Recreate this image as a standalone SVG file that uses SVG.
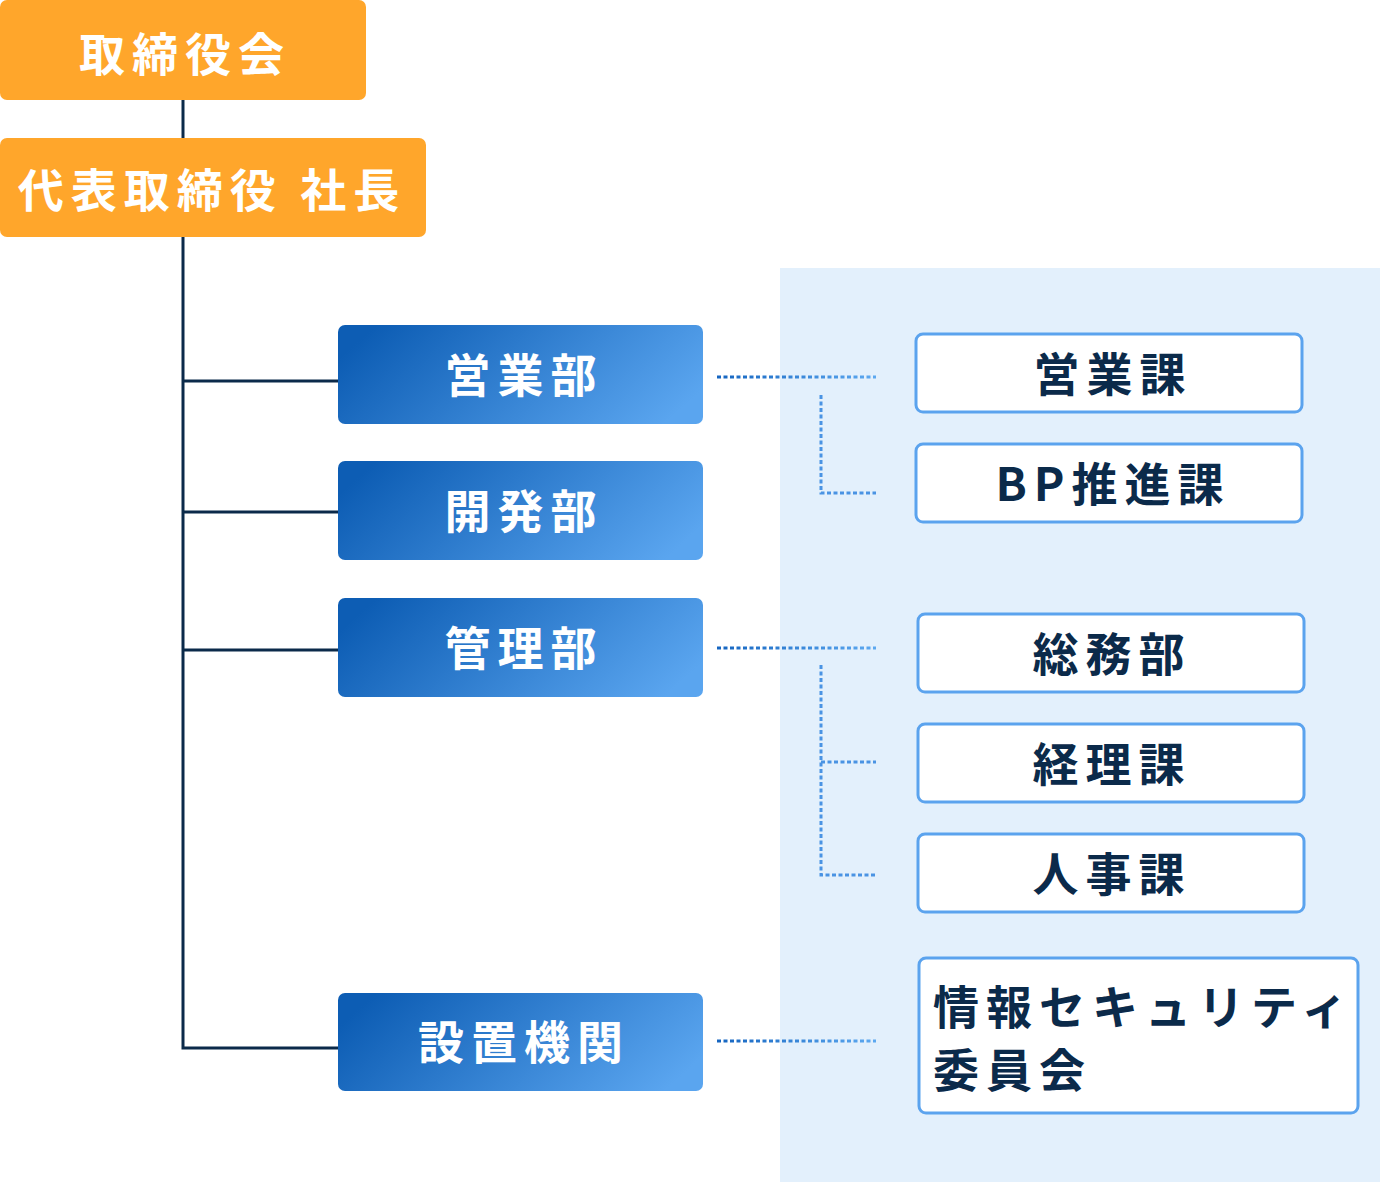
<svg xmlns="http://www.w3.org/2000/svg" width="1380" height="1182" viewBox="0 0 1380 1182">
<defs>
<linearGradient id="gBlue" x1="0" y1="0.35" x2="1" y2="0.65">
<stop offset="0" stop-color="#0D5DB4"/>
<stop offset="1" stop-color="#5AA5EF"/>
</linearGradient>
<linearGradient id="gDot" gradientUnits="userSpaceOnUse" x1="717" y1="0" x2="875" y2="0">
<stop offset="0" stop-color="#1565C0"/>
<stop offset="1" stop-color="#5CA8F0"/>
</linearGradient>
<style>
.org{fill:#FFA62B}
.dept{fill:url(#gBlue)}
.sub{fill:#FFFFFF;stroke:#5BA3EE;stroke-width:3}
.tw{font-family:"Noto Sans CJK JP","Noto Sans",sans-serif;font-weight:700;font-size:46px;fill:#FFFFFF;letter-spacing:7px;text-anchor:middle;dominant-baseline:central}
.td{font-family:"Noto Sans CJK JP","Noto Sans",sans-serif;font-weight:700;font-size:46px;fill:#0B2A4A;letter-spacing:7px;text-anchor:middle;dominant-baseline:central}
.tl{text-anchor:start}
.solid{stroke:#0B2A4A;stroke-width:3;fill:none}
.dot{stroke:url(#gDot);stroke-width:3;stroke-dasharray:4 2.5;fill:none}
.dotv{stroke:#4A93E3;stroke-width:3;stroke-dasharray:4 2.5;fill:none}
</style>
</defs>
<rect x="780" y="268" width="600" height="914" fill="#E3F0FC"/>
<g id="connectors">
<line class="solid" x1="183" y1="100" x2="183" y2="138"/>
<path class="solid" d="M183 237 V1048 H338"/>
<line class="solid" x1="183" y1="381" x2="338" y2="381"/>
<line class="solid" x1="183" y1="512" x2="338" y2="512"/>
<line class="solid" x1="183" y1="650" x2="338" y2="650"/>
<line class="dot" x1="717" y1="377" x2="876" y2="377"/>
<path class="dotv" d="M821 395 V493 H876"/>
<line class="dot" x1="717" y1="648" x2="876" y2="648"/>
<path class="dotv" d="M821 665 V875 H876"/>
<line class="dotv" x1="821" y1="762" x2="876" y2="762"/>
<line class="dot" x1="717" y1="1041" x2="876" y2="1041"/>
</g>
<g id="board"><rect class="org" x="0" y="0" width="366" height="100" rx="7"/><text class="tw" x="185" y="51">取締役会</text></g>
<g id="president"><rect class="org" x="0" y="138" width="426" height="99" rx="7"/><text class="tw" x="212" y="187">代表取締役 社長</text></g>
<g id="sales"><rect class="dept" x="338" y="325" width="365" height="99" rx="7"/><text class="tw" x="524" y="372">営業部</text></g>
<g id="dev"><rect class="dept" x="338" y="461" width="365" height="99" rx="7"/><text class="tw" x="524" y="508">開発部</text></g>
<g id="admin"><rect class="dept" x="338" y="598" width="365" height="99" rx="7"/><text class="tw" x="524" y="645">管理部</text></g>
<g id="bodies"><rect class="dept" x="338" y="993" width="365" height="98" rx="7"/><text class="tw" x="524" y="1039">設置機関</text></g>
<g id="sales-sec"><rect class="sub" x="916" y="334" width="386" height="78" rx="7"/><text class="td" x="1113" y="371">営業課</text></g>
<g id="bp"><rect class="sub" x="916" y="444" width="386" height="78" rx="7"/><text class="td" x="1113" y="481">BP推進課</text></g>
<g id="general"><rect class="sub" x="918" y="614" width="386" height="78" rx="7"/><text class="td" x="1112" y="651">総務部</text></g>
<g id="accounting"><rect class="sub" x="918" y="724" width="386" height="78" rx="7"/><text class="td" x="1112" y="761">経理課</text></g>
<g id="hr"><rect class="sub" x="918" y="834" width="386" height="78" rx="7"/><text class="td" x="1112" y="871">人事課</text></g>
<g id="infosec"><rect class="sub" x="919" y="958" width="439" height="155" rx="7"/><text class="td tl" x="933" y="1004">情報セキュリティ</text><text class="td tl" x="933" y="1067">委員会</text></g>
</svg>
